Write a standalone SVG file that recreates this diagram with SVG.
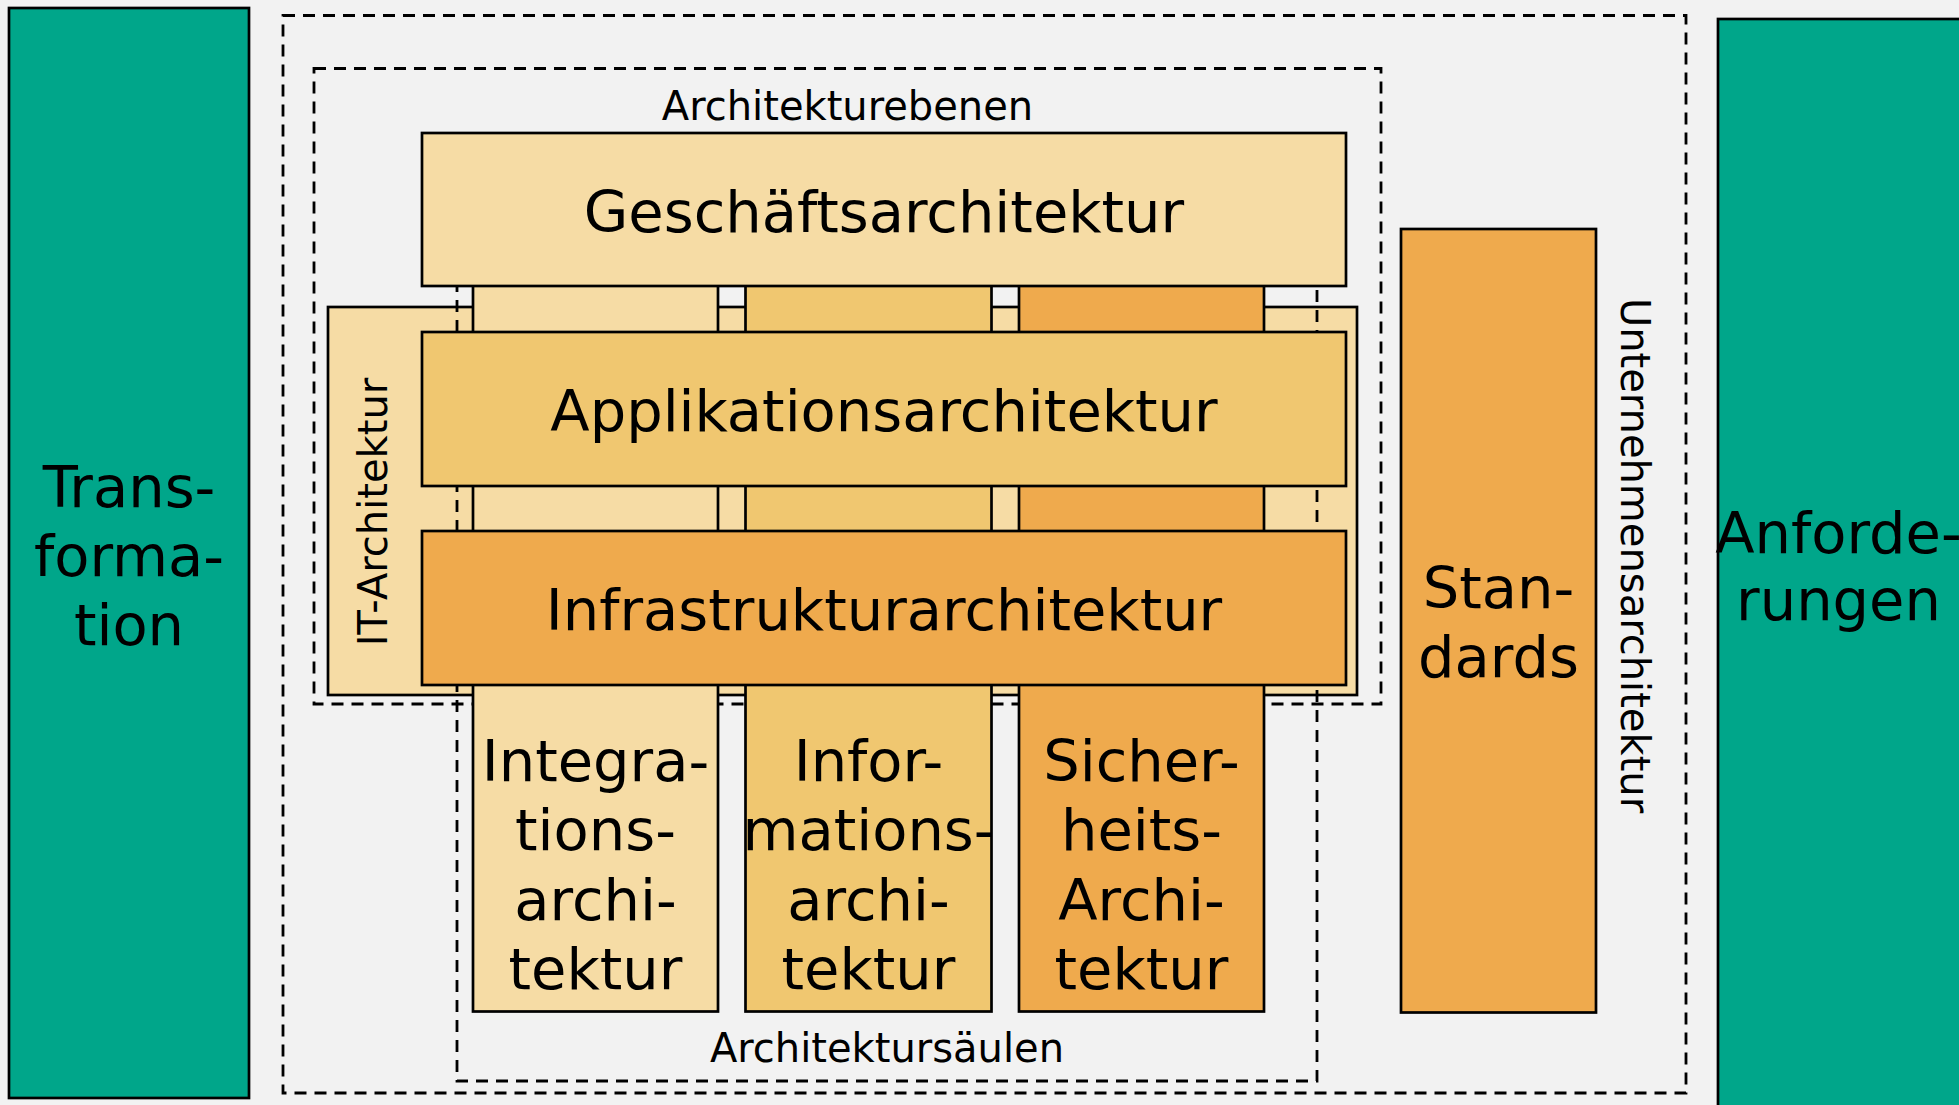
<svg xmlns="http://www.w3.org/2000/svg" width="1959" height="1105" viewBox="0 0 1959 1105">
<style>
.box{stroke:#000;stroke-width:2.7}
.dash{fill:none;stroke:#000;stroke-width:2.8;stroke-dasharray:12 8}
.green{fill:#00a68a}
.c1{fill:#f6dca5}
.c2{fill:#f0c770}
.c3{fill:#efaa4d}
text{font-family:"DejaVu Sans","Liberation Sans",sans-serif;fill:#000;text-anchor:middle}
.big{font-size:57.5px}
.small{font-size:40px}
</style>
<rect x="0" y="0" width="1959" height="1105" fill="#f2f2f2"/>
<g id="transformation">
<rect class="box green" x="9" y="8" width="240" height="1090"/>
<text class="big" x="129"><tspan x="129" y="507">Trans-</tspan><tspan x="129" y="576">forma-</tspan><tspan x="129" y="645">tion</tspan></text>
</g>
<g id="anforderungen">
<rect class="box green" x="1718" y="19" width="260" height="1100"/>
<text class="big"><tspan x="1838.5" y="553">Anforde-</tspan><tspan x="1838.5" y="620">rungen</tspan></text>
</g>
<g id="unternehmensarchitektur">
<rect class="dash" x="283" y="15.5" width="1403" height="1077.5"/>
<text class="small" transform="translate(1621,555.5) rotate(90)" x="0" y="0">Unternehmensarchitektur</text>
</g>
<g id="architekturebenen">
<rect class="dash" x="314" y="68.5" width="1067" height="635.5"/>
<text class="small" x="847.5" y="120">Architekturebenen</text>
</g>
<g id="it-architektur">
<rect class="box c1" x="328" y="307" width="1029" height="388"/>
<text class="small" transform="translate(386.5,512) rotate(-90)" x="0" y="0">IT-Architektur</text>
</g>
<g id="architektursaeulen">
<rect class="dash" x="457" y="250" width="860" height="831"/>
<text class="small" x="887" y="1062">Architektursäulen</text>
</g>
<g id="integrationsarchitektur">
<rect class="box c1" x="473" y="270" width="245" height="741.5"/>
<text class="big"><tspan x="595.5" y="781">Integra-</tspan><tspan x="595.5" y="850">tions-</tspan><tspan x="595.5" y="920">archi-</tspan><tspan x="595.5" y="989">tektur</tspan></text>
</g>
<g id="informationsarchitektur">
<rect class="box c2" x="745.5" y="270" width="246" height="741.5"/>
<text class="big"><tspan x="868.5" y="781">Infor-</tspan><tspan x="868.5" y="850">mations-</tspan><tspan x="868.5" y="920">archi-</tspan><tspan x="868.5" y="989">tektur</tspan></text>
</g>
<g id="sicherheitsarchitektur">
<rect class="box c3" x="1019" y="270" width="245" height="741.5"/>
<text class="big"><tspan x="1141.5" y="781">Sicher-</tspan><tspan x="1141.5" y="850">heits-</tspan><tspan x="1141.5" y="920">Archi-</tspan><tspan x="1141.5" y="989">tektur</tspan></text>
</g>
<g id="geschaeftsarchitektur">
<rect class="box c1" x="422" y="133" width="924" height="153"/>
<text class="big" x="884" y="232">Geschäftsarchitektur</text>
</g>
<g id="applikationsarchitektur">
<rect class="box c2" x="422" y="332" width="924" height="154"/>
<text class="big" x="884" y="431">Applikationsarchitektur</text>
</g>
<g id="infrastrukturarchitektur">
<rect class="box c3" x="422" y="531" width="924" height="154"/>
<text class="big" x="884" y="630">Infrastrukturarchitektur</text>
</g>
<g id="standards">
<rect class="box c3" x="1401" y="229" width="195" height="783.5"/>
<text class="big"><tspan x="1498.5" y="608">Stan-</tspan><tspan x="1498.5" y="677">dards</tspan></text>
</g>
<g id="connectors"></g>
</svg>
